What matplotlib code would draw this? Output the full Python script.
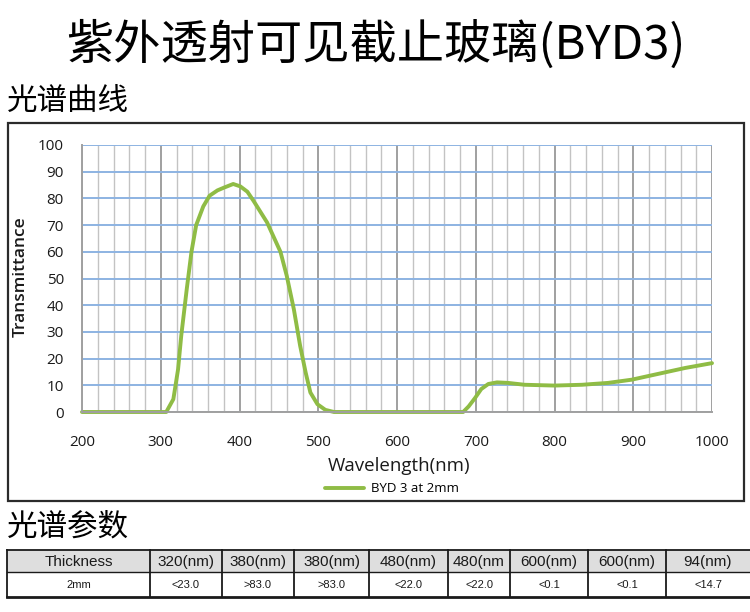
import numpy as np
import matplotlib
matplotlib.use("Agg")
import matplotlib.pyplot as plt
from matplotlib.patches import Rectangle

# spectrum
wavelength = [200, 307, 316, 322, 326, 333, 339, 345, 354, 362, 372, 380, 392, 401,
              410, 418, 435, 452, 460, 469, 477, 484, 490, 499, 509, 520,
              684, 691, 699, 707, 716, 727, 741, 762, 800, 835, 868, 898, 932, 966, 1000]
transmittance = [0, 0, 4.8, 16, 28.5, 46, 60, 70, 77, 81, 83, 84, 85.4, 84.5,
                 82.5, 79, 71, 60, 51, 38.5, 24.8, 14.8, 7.3, 2.9, 0.8, 0,
                 0, 2.1, 5.2, 8.6, 10.5, 11.1, 10.9, 10.2, 9.9, 10.2, 10.9, 12.1, 14.3, 16.5, 18.3]

x_ticks = [200, 300, 400, 500, 600, 700, 800, 900, 1000]
y_ticks = [0, 10, 20, 30, 40, 50, 60, 70, 80, 90, 100]

table_header = ["Thickness", "320(nm)", "380(nm)", "380(nm)", "480(nm)", "480(nm",
                "600(nm)", "600(nm)", "94(nm)"]
table_values = ["2mm", "<23.0", ">83.0", ">83.0", "<22.0", "<22.0", "<0.1", "<0.1", "<14.7"]

W, H = 750, 612
CJK = ["Noto Sans CJK SC", "DejaVu Sans"]
LAT = ["Open Sans", "DejaVu Sans"]
ARIAL = ["Liberation Sans", "DejaVu Sans"]

fig = plt.figure(figsize=(W / 100, H / 100), dpi=100)

# overlay in pixel coords for titles, box and table
ov = fig.add_axes([0, 0, 1, 1])
ov.set_xlim(0, W)
ov.set_ylim(H, 0)
ov.axis("off")

ov.text(376, 45, "紫外透射可见截止玻璃(BYD3)", ha="center", va="center",
        fontsize=34, family=CJK, color="black")
ov.text(7, 101, "光谱曲线", ha="left", va="center", fontsize=22, family=CJK)
ov.text(7, 527, "光谱参数", ha="left", va="center", fontsize=22, family=CJK)

ov.add_patch(Rectangle((8, 123), 736, 378, fill=False, ec="#2b2b2b", lw=1.6))

# chart
px0, px1, py0, py1 = 82, 712, 145, 412
ax = fig.add_axes([px0 / W, 1 - py1 / H, (px1 - px0) / W, (py1 - py0) / H])
ax.set_xlim(200, 1000)
ax.set_ylim(0, 100)
ax.set_xticks(x_ticks)
ax.set_xticks(np.arange(200, 1001, 20), minor=True)
ax.set_yticks(y_ticks)
ax.grid(which="minor", axis="x", color="#c3c3c3", lw=1.0)
ax.grid(which="major", axis="x", color="#909090", lw=1.2)
ax.grid(which="major", axis="y", color="#8db3e2", lw=1.4)
ax.set_axisbelow(True)
for s in ["top", "right"]:
    ax.spines[s].set_visible(False)
for s in ["left", "bottom"]:
    ax.spines[s].set_color("#a0a0a0")
    ax.spines[s].set_linewidth(1.4)
ax.tick_params(which="both", length=0)
ax.tick_params(axis="x", pad=16.5, labelsize=11)
ax.tick_params(axis="y", pad=13, labelsize=11)
for lab in ax.get_xticklabels() + ax.get_yticklabels():
    lab.set_family(LAT)
    lab.set_color("#1a1a1a")

line, = ax.plot(wavelength, transmittance, color="#8fbc45", lw=2.8,
                solid_joinstyle="round", solid_capstyle="round", clip_on=False)

ov.text(21, 277, "Transmittance", rotation=90, ha="center", va="center",
        fontsize=12.5, family=LAT, weight="semibold", color="#1a1a1a")
ov.text(399, 466, "Wavelength(nm)", ha="center", va="center",
        fontsize=13.5, family=LAT, color="#1a1a1a")
fig.legend([line], ["BYD 3 at 2mm"], loc="center", bbox_to_anchor=(392 / W, 1 - 489 / H),
           frameon=False, handlelength=3.0, handletextpad=0.5,
           prop={"family": LAT, "size": 9.5})

# parameter table
col_edges = [7, 150, 222, 294, 369, 448, 510, 588, 666, 750]
y_top, y_mid, y_bot = 550, 572, 597
for i in range(len(table_header)):
    x0, x1 = col_edges[i], col_edges[i + 1]
    ov.add_patch(Rectangle((x0, y_top), x1 - x0, y_mid - y_top, fc="#dedede", ec="none"))
    ov.text((x0 + x1) / 2, (y_top + y_mid) / 2 + 1, table_header[i], ha="center", va="center",
            fontsize=11, family=ARIAL, color="#1a1a1a")
    ov.text((x0 + x1) / 2, (y_mid + y_bot) / 2 + 1, table_values[i], ha="center", va="center",
            fontsize=8, family=ARIAL, color="#1a1a1a")
for x in col_edges[:-1]:
    ov.plot([x, x], [y_top, y_bot], color="#1a1a1a", lw=1.3)
ov.plot([7, 750], [y_top, y_top], color="#1a1a1a", lw=1.3)
ov.plot([7, 750], [y_mid, y_mid], color="#1a1a1a", lw=1.0)
ov.plot([7, 750], [y_bot, y_bot], color="#1a1a1a", lw=2.0)

fig.savefig("out.png", dpi=100)
